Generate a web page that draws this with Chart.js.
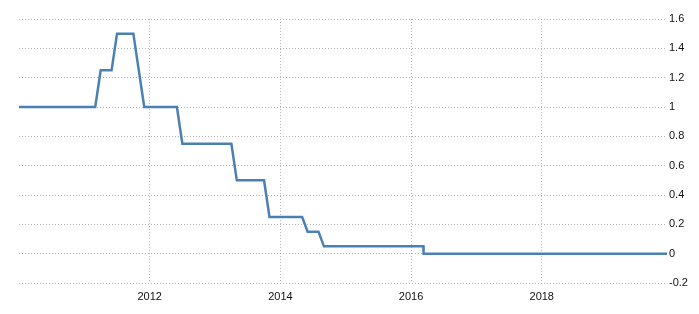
<!DOCTYPE html>
<html>
<head>
<meta charset="utf-8">
<script src="https://cdn.jsdelivr.net/npm/chart.js@4"></script>
<style>
  html, body { margin: 0; padding: 0; background: #fff; }
  #wrap { width: 699px; height: 314px; }
</style>
</head>
<body>
<div id="wrap"><canvas id="chart"></canvas></div>
<script>
// ===== Data: monthly rate, Jan 2010 - Dec 2019 =====
const dates = [
  '2010-01','2010-02','2010-03','2010-04','2010-05','2010-06','2010-07','2010-08','2010-09','2010-10','2010-11','2010-12',
  '2011-01','2011-02','2011-03','2011-04','2011-05','2011-06','2011-07','2011-08','2011-09','2011-10','2011-11','2011-12',
  '2012-01','2012-02','2012-03','2012-04','2012-05','2012-06','2012-07','2012-08','2012-09','2012-10','2012-11','2012-12',
  '2013-01','2013-02','2013-03','2013-04','2013-05','2013-06','2013-07','2013-08','2013-09','2013-10','2013-11','2013-12',
  '2014-01','2014-02','2014-03','2014-04','2014-05','2014-06','2014-07','2014-08','2014-09','2014-10','2014-11','2014-12',
  '2015-01','2015-02','2015-03','2015-04','2015-05','2015-06','2015-07','2015-08','2015-09','2015-10','2015-11','2015-12',
  '2016-01','2016-02','2016-03-09','2016-03-10','2016-04','2016-05','2016-06','2016-07','2016-08','2016-09','2016-10','2016-11','2016-12',
  '2017-01','2017-02','2017-03','2017-04','2017-05','2017-06','2017-07','2017-08','2017-09','2017-10','2017-11','2017-12',
  '2018-01','2018-02','2018-03','2018-04','2018-05','2018-06','2018-07','2018-08','2018-09','2018-10','2018-11','2018-12',
  '2019-01','2019-02','2019-03','2019-04','2019-05','2019-06','2019-07','2019-08','2019-09','2019-10','2019-11','2019-12'
];

const rates = [
  1, 1, 1, 1, 1, 1, 1, 1, 1, 1, 1, 1,
  1, 1, 1, 1.25, 1.25, 1.25, 1.5, 1.5, 1.5, 1.5, 1.25, 1,
  1, 1, 1, 1, 1, 1, 0.75, 0.75, 0.75, 0.75, 0.75, 0.75,
  0.75, 0.75, 0.75, 0.75, 0.5, 0.5, 0.5, 0.5, 0.5, 0.5, 0.25, 0.25,
  0.25, 0.25, 0.25, 0.25, 0.25, 0.15, 0.15, 0.15, 0.05, 0.05, 0.05, 0.05,
  0.05, 0.05, 0.05, 0.05, 0.05, 0.05, 0.05, 0.05, 0.05, 0.05, 0.05, 0.05,
  0.05, 0.05, 0.05, 0, 0, 0, 0, 0, 0, 0, 0, 0, 0,
  0, 0, 0, 0, 0, 0, 0, 0, 0, 0, 0, 0,
  0, 0, 0, 0, 0, 0, 0, 0, 0, 0, 0, 0,
  0, 0, 0, 0, 0, 0, 0, 0, 0, 0, 0, 0
];

const yearTicks = [2012, 2014, 2016, 2018];
const yMin = -0.2;
const yMax = 1.6;

// date string -> decimal year
function toYear(s) {
  const p = s.split('-').map(Number);
  const day = p[2] ? (p[2] - 1) / 30 : 0;
  return p[0] + (p[1] - 1 + day) / 12;
}

const points = dates.map((d, i) => ({ x: toYear(d), y: rates[i] }));

const tickFont = { family: 'Liberation Sans, Arial', size: 11 };

new Chart(document.getElementById('chart'), {
  type: 'line',
  data: {
    datasets: [{
      data: points,
      borderColor: '#4a81b4',
      borderWidth: 2.5,
      pointRadius: 0,
      tension: 0,
      fill: false
    }]
  },
  options: {
    responsive: true,
    maintainAspectRatio: false,
    animation: false,
    layout: { padding: { left: 19, top: 19, right: 0, bottom: 0 } },
    plugins: { legend: { display: false }, tooltip: { enabled: false } },
    scales: {
      x: {
        type: 'linear',
        min: toYear(dates[0]),
        max: toYear(dates[dates.length - 1]),
        afterBuildTicks: axis => {
          axis.ticks = yearTicks.map(v => ({ value: v }));
        },
        afterFit: axis => { axis.height = 31; },
        grid: { color: '#b4b4b4', lineWidth: 1, drawTicks: false },
        border: { display: false, dash: [1, 2] },
        ticks: {
          padding: 7,
          maxRotation: 0,
          color: '#111',
          font: tickFont,
          callback: v => String(v)
        }
      },
      y: {
        position: 'right',
        min: yMin,
        max: yMax,
        afterFit: axis => { axis.width = 32; },
        grid: { color: '#b4b4b4', lineWidth: 1, drawTicks: false },
        border: { display: false, dash: [1, 2] },
        ticks: {
          stepSize: 0.2,
          padding: 2,
          color: '#111',
          font: tickFont,
          callback: v => String(Math.round(v * 10) / 10)
        }
      }
    }
  }
});
</script>
</body>
</html>
